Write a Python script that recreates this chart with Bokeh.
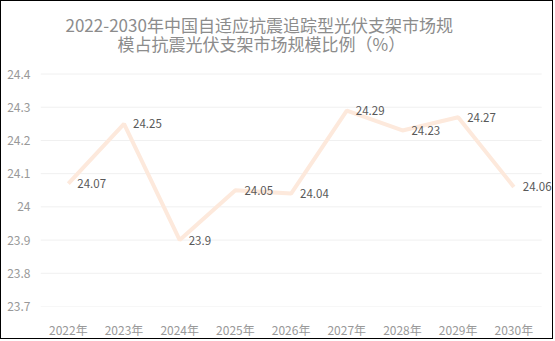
from bokeh.plotting import figure
from bokeh.models import Range1d, FixedTicker, Label, LabelSet, ColumnDataSource
from bokeh.core.properties import value
from bokeh.embed import file_html
from bokeh.resources import INLINE

years = ["2022年", "2023年", "2024年", "2025年", "2026年", "2027年", "2028年", "2029年", "2030年"]
shares = [24.07, 24.25, 23.9, 24.05, 24.04, 24.29, 24.23, 24.27, 24.06]
share_labels = ["24.07", "24.25", "23.9", "24.05", "24.04", "24.29", "24.23", "24.27", "24.06"]
y_ticks = [23.7, 23.8, 23.9, 24.0, 24.1, 24.2, 24.3, 24.4]
y_tick_labels = ["23.7", "23.8", "23.9", "24", "24.1", "24.2", "24.3", "24.4"]
title_lines = ["2022-2030年中国自适应抗震追踪型光伏支架市场规", "模占抗震光伏支架市场规模比例（%）"]

FONT = "Noto Sans CJK SC"

xs = list(range(len(years)))
src = ColumnDataSource(dict(x=xs, y=shares, t=share_labels))

# frame reaches the top of the canvas; the upper part holds the title
p = figure(width=553, height=339, x_range=Range1d(-0.5, 8.73), y_range=Range1d(23.7, 24.6184),
           output_backend="svg", toolbar_location=None,
           min_border_left=39, min_border_right=0, min_border_top=0, min_border_bottom=32,
           styles={"border": "1px solid black"})
p.title = None
p.outline_line_color = None
p.background_fill_color = "white"
p.border_fill_color = "white"

# horizontal grid lines spanning the category band only
p.segment(x0=[-0.5] * len(y_ticks), x1=[len(years) - 0.5] * len(y_ticks), y0=y_ticks, y1=y_ticks,
          line_color="#f0f0f0", line_width=1)

p.line("x", "y", source=src, line_color="#fde9dc", line_width=4)
p.add_layout(LabelSet(x="x", y="y", text="t", source=src, x_offset=9,
                      text_align="left", text_baseline="middle",
                      text_font=value(FONT), text_font_size="11.5px", text_color="#595959"))

p.xaxis.ticker = FixedTicker(ticks=xs)
p.xaxis.major_label_overrides = {i: y for i, y in zip(xs, years)}
p.yaxis.ticker = FixedTicker(ticks=y_ticks)
p.yaxis.major_label_overrides = {t: l for t, l in zip(y_ticks, y_tick_labels)}
for ax in (p.xaxis[0], p.yaxis[0]):
    ax.axis_line_color = None
    ax.major_tick_line_color = None
    ax.minor_tick_line_color = None
    ax.major_label_text_color = "#999999"
    ax.major_label_text_font = FONT
    ax.major_label_text_font_size = "12px"
p.yaxis.major_label_standoff = 4
p.xaxis.major_label_standoff = 8
p.xgrid.grid_line_color = None
p.ygrid.grid_line_color = None

for (tx, ty), line in zip([(25, 282), (77, 263)], title_lines):
    p.add_layout(Label(x=tx, y=ty, x_units="screen", y_units="screen", text=line,
                       text_align="left", text_baseline="middle",
                       text_font=FONT, text_font_size="17px", text_color="#8c8c8c"))

open("out.html", "w").write(file_html(p, INLINE))
